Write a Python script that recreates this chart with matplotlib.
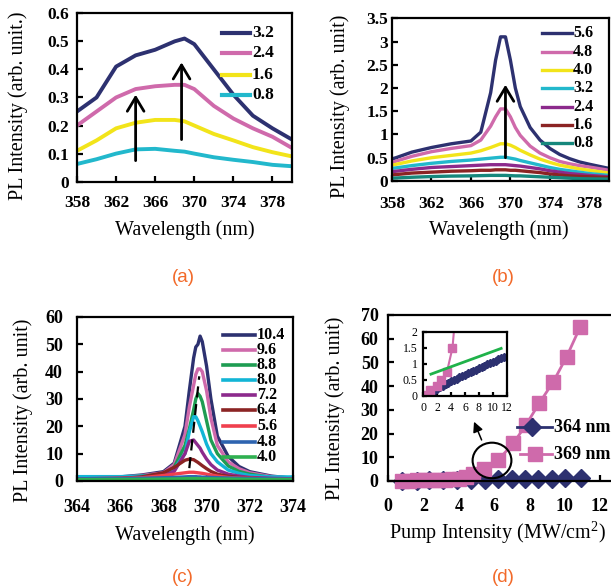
import matplotlib
matplotlib.use('Agg')
import matplotlib.pyplot as plt
from matplotlib.patches import Ellipse

plt.rcParams['font.family'] = 'Liberation Serif'
plt.rcParams['mathtext.fontset'] = 'custom'
plt.rcParams['mathtext.rm'] = 'Liberation Serif'

NAVY = '#2d3170'
PINK = '#cf6aab'
YELLOW = '#f2e41a'
CYAN = '#22b8cc'
PURPLE = '#8c2a8c'
DKRED = '#8b2424'
TEAL = '#16877c'
GREEN = '#1e9c52'
CYAN2 = '#12b5d6'
RED = '#f0404e'
BLUE = '#2e64b0'
LGREEN = '#2fb050'
ORANGE = '#f26a2a'

# ---- (a) below threshold spectra ----
wl_a = [358, 360, 362, 364, 366, 368, 369, 370, 372, 374, 376, 378, 380]
a_32 = [0.25, 0.30, 0.41, 0.45, 0.47, 0.50, 0.51, 0.49, 0.40, 0.31, 0.235, 0.19, 0.15]
a_24 = [0.20, 0.25, 0.30, 0.33, 0.34, 0.345, 0.345, 0.33, 0.27, 0.225, 0.19, 0.16, 0.12]
a_16 = [0.11, 0.147, 0.19, 0.21, 0.22, 0.22, 0.215, 0.20, 0.17, 0.147, 0.123, 0.105, 0.09]
a_08 = [0.063, 0.08, 0.10, 0.115, 0.117, 0.11, 0.107, 0.10, 0.087, 0.078, 0.07, 0.06, 0.055]
a_labels = ['3.2', '2.4', '1.6', '0.8']

# ---- (b) near threshold spectra ----
wl_b = [358, 360, 362, 364, 366, 367, 368, 368.5, 369, 369.5, 370, 370.5, 371,
        372, 373, 374, 375, 376, 377, 378, 380]
b_56 = [0.47, 0.62, 0.72, 0.80, 0.86, 1.05, 1.9, 2.6, 3.1, 3.1, 2.6, 2.0, 1.6,
        1.15, 0.88, 0.70, 0.57, 0.48, 0.41, 0.36, 0.27]
b_48 = [0.40, 0.53, 0.63, 0.70, 0.76, 0.88, 1.18, 1.38, 1.55, 1.55, 1.38, 1.15, 0.98,
        0.75, 0.60, 0.50, 0.42, 0.37, 0.33, 0.30, 0.23]
b_40 = [0.34, 0.43, 0.50, 0.55, 0.60, 0.65, 0.72, 0.76, 0.80, 0.80, 0.77, 0.72, 0.66,
        0.56, 0.47, 0.40, 0.34, 0.30, 0.26, 0.23, 0.17]
b_32 = [0.27, 0.33, 0.38, 0.42, 0.45, 0.47, 0.49, 0.50, 0.51, 0.51, 0.49, 0.47, 0.44,
        0.39, 0.34, 0.29, 0.25, 0.22, 0.19, 0.16, 0.12]
b_24 = [0.20, 0.25, 0.29, 0.31, 0.33, 0.34, 0.35, 0.35, 0.35, 0.35, 0.34, 0.33, 0.32,
        0.29, 0.26, 0.22, 0.19, 0.16, 0.14, 0.12, 0.09]
b_16 = [0.13, 0.17, 0.19, 0.21, 0.22, 0.23, 0.23, 0.24, 0.24, 0.24, 0.23, 0.23, 0.22,
        0.20, 0.18, 0.15, 0.13, 0.11, 0.10, 0.09, 0.07]
b_08 = [0.06, 0.08, 0.095, 0.105, 0.11, 0.115, 0.12, 0.12, 0.12, 0.12, 0.115, 0.11, 0.11,
        0.10, 0.09, 0.08, 0.07, 0.06, 0.05, 0.045, 0.04]
b_labels = ['5.6', '4.8', '4.0', '3.2', '2.4', '1.6', '0.8']

# ---- (c) above threshold spectra ----
wl_c = [364, 366, 367, 368, 368.5, 369, 369.2, 369.4, 369.5, 369.6, 369.7, 369.8,
        370, 370.2, 370.5, 371, 371.5, 372, 373, 374]
c_104 = [1.2, 1.5, 2.2, 3.4, 6.5, 20, 33, 45, 49, 50, 53, 51, 42, 30, 16.4, 9, 5.3, 3.4, 1.8, 1.0]
c_96 = [1.0, 1.3, 2.0, 3.0, 6.0, 17, 27, 35, 39, 41, 41, 40, 33, 23, 13, 7, 4.5, 3, 1.6, 1.0]
c_88 = [0.9, 1.2, 1.8, 2.5, 5.0, 13, 19, 26, 30, 32, 31, 29, 22, 15, 10, 5.5, 3.5, 2.5, 1.3, 0.8]
c_80 = [1.6, 1.6, 1.8, 2.2, 4.5, 10, 18, 23.5, 23.5, 22, 20, 18, 13.5, 10, 7, 4, 2.8, 2, 1.5, 1.5]
c_72 = [0.8, 1.0, 1.3, 2.0, 3.5, 10, 14.5, 15, 14, 13, 12, 10.5, 8, 6, 4, 2.5, 1.8, 1.3, 1.0, 0.8]
c_64 = [0.6, 0.9, 1.5, 3.0, 5.0, 7.6, 8, 7.8, 7.3, 6.8, 6.2, 5.6, 4.5, 3.5, 2.5, 1.7, 1.3, 1.0, 0.7, 0.6]
c_56 = [0.8, 1.0, 1.2, 2.0, 2.5, 3.0, 3.2, 3.2, 3.1, 3.0, 2.9, 2.8, 2.5, 2.2, 1.8, 1.3, 1.1, 1.0, 0.8, 0.7]
c_48 = [0.8, 0.9, 1.0, 1.2, 1.3, 1.5, 1.6, 1.6, 1.6, 1.5, 1.5, 1.4, 1.4, 1.3, 1.2, 1.1, 1.0, 0.9, 0.8, 0.7]
c_40 = [0.5, 0.6, 0.6, 0.7, 0.75, 0.85, 0.9, 0.9, 0.9, 0.9, 0.85, 0.85, 0.8, 0.8, 0.75, 0.7, 0.65, 0.6, 0.55, 0.5]
c_labels = ['10.4', '9.6', '8.8', '8.0', '7.2', '6.4', '5.6', '4.8', '4.0']
c_trend_x = [369.2, 369.66]
c_trend_y = [4.7, 38.3]

# ---- (d) light-in / light-out ----
pump_364 = [0.8, 1.6, 2.3, 3.1, 3.9, 4.7, 5.5, 6.2, 7.0, 7.75, 8.5, 9.3, 10.0, 10.9]
pl_364 = [0.08, 0.18, 0.26, 0.35, 0.44, 0.53, 0.62, 0.70, 0.79, 0.87, 0.95, 1.03, 1.11, 1.2]
pump_369 = [0.8, 1.2, 1.6, 2.0, 2.4, 2.8, 3.2, 3.6, 4.0, 4.4, 4.8, 5.4, 6.24, 7.09,
            7.8, 8.56, 9.36, 10.11, 10.87]
pl_369 = [0.12, 0.19, 0.26, 0.32, 0.4, 0.47, 0.6, 0.7, 0.9, 1.5, 2.8, 4.9, 8.9, 15.9,
          23.6, 32.8, 41.9, 52.4, 64.8]

ins_pump_364 = [0.4, 0.8, 1.2, 1.6, 2.0, 2.4, 2.8, 3.2, 3.6, 4.0, 4.4, 4.8, 5.2, 5.6, 6.0,
                6.4, 6.8, 7.2, 7.6, 8.0, 8.4, 8.8, 9.2, 9.6, 10.0, 10.4, 10.8, 11.2, 11.6]
ins_pl_364 = [0.03, 0.07, 0.12, 0.17, 0.22, 0.27, 0.32, 0.37, 0.41, 0.46, 0.5, 0.54, 0.58,
              0.62, 0.66, 0.7, 0.74, 0.78, 0.82, 0.86, 0.9, 0.94, 0.98, 1.02, 1.06, 1.1,
              1.14, 1.18, 1.22]
ins_pump_369 = [0.3, 1.0, 1.9, 2.6, 3.4, 4.2, 5.2]
ins_pl_369 = [0.02, 0.19, 0.32, 0.5, 0.75, 1.5, 4.0]
fit_x = [1.1, 11.2]
fit_y = [0.68, 1.48]


def style(ax, xpad, ypad, fs):
    for s in ax.spines.values():
        s.set_linewidth(1.6)
        s.set_color('black')
    ax.tick_params(direction='in', length=4, width=1.6, top=False, right=False)
    ax.tick_params(axis='x', pad=xpad, labelsize=fs)
    ax.tick_params(axis='y', pad=ypad, labelsize=fs)
    for t in ax.get_xticklabels() + ax.get_yticklabels():
        t.set_fontweight('bold')


def labels(ax, xl, yl, xc, yc):
    ax.set_xlabel(xl, fontsize=14.5)
    ax.set_ylabel(yl, fontsize=14.5)
    ax.xaxis.set_label_coords(*xc)
    ax.yaxis.set_label_coords(*yc)
    ax.xaxis.label.set_va('center')
    ax.yaxis.label.set_va('center')


def key(ax, names, colors, x0, x1, xt, ys, fs, lw):
    for n, c, y in zip(names, colors, ys):
        ax.plot([x0, x1], [y, y], color=c, lw=lw, transform=ax.transAxes, clip_on=False)
        ax.text(xt, y, n, transform=ax.transAxes, va='center', ha='left',
                fontsize=fs, fontweight='bold')


ARROW = dict(arrowstyle='->,head_length=0.5,head_width=0.3', lw=2, color='black',
             mutation_scale=20, shrinkA=0, shrinkB=0)

fig = plt.figure(figsize=(6.11, 5.87), dpi=100)

# (a)
ax = fig.add_axes([0.1260, 0.6905, 0.3519, 0.2869])
cols_a = [NAVY, PINK, YELLOW, CYAN]
for ys, c in zip([a_32, a_24, a_16, a_08], cols_a):
    ax.plot(wl_a, ys, color=c, lw=2.8, solid_joinstyle='round')
ax.annotate('', xy=(364, 0.31), xytext=(364, 0.075), arrowprops=ARROW)
ax.annotate('', xy=(368.7, 0.425), xytext=(368.7, 0.15), arrowprops=ARROW)
ax.set_xlim(358, 380)
ax.set_ylim(0, 0.6)
ax.set_xticks([358, 362, 366, 370, 374, 378])
ax.set_yticks([0, 0.1, 0.2, 0.3, 0.4, 0.5, 0.6])
ax.set_yticklabels(['0', '0.1', '0.2', '0.3', '0.4', '0.5', '0.6'])
style(ax, 9.5, 6, 12.5)
labels(ax, 'Wavelength (nm)', 'PL Intensity (arb. unit.)', (0.502, -0.287), (-0.274, 0.45))
key(ax, a_labels, cols_a, 0.674, 0.805, 0.814, [0.883, 0.762, 0.634, 0.515], 12.5, 3)
fig.text(183 / 611, 1 - 277 / 587, '(a)', color=ORANGE, fontsize=13.5,
         family='Liberation Sans', ha='center', va='center')

# (b)
ax = fig.add_axes([0.6416, 0.6917, 0.3552, 0.2772])
cols_b = [NAVY, PINK, YELLOW, CYAN, PURPLE, DKRED, TEAL]
for ys, c in zip([b_56, b_48, b_40, b_32, b_24, b_16, b_08], cols_b):
    ax.plot(wl_b, ys, color=c, lw=2.4, solid_joinstyle='round')
ax.annotate('', xy=(369.5, 2.07), xytext=(369.5, 0.5), arrowprops=ARROW)
ax.set_xlim(358, 380)
ax.set_ylim(0, 3.5)
ax.set_xticks([358, 362, 366, 370, 374, 378])
ax.set_yticks([0, 0.5, 1, 1.5, 2, 2.5, 3, 3.5])
ax.set_yticklabels(['0', '0.5', '1', '1.5', '2', '2.5', '3', '3.5'])
style(ax, 11, 3, 12.5)
labels(ax, 'Wavelength (nm)', 'PL Intensity (arb. unit)', (0.49, -0.30), (-0.24, 0.46))
key(ax, b_labels, cols_b, 0.690, 0.828, 0.834,
    [0.908, 0.795, 0.682, 0.570, 0.457, 0.344, 0.232], 11.5, 2.4)
fig.text(503 / 611, 1 - 277 / 587, '(b)', color=ORANGE, fontsize=13.5,
         family='Liberation Sans', ha='center', va='center')

# (c)
ax = fig.add_axes([0.1260, 0.1806, 0.3535, 0.2794])
cols_c = [NAVY, PINK, GREEN, CYAN2, PURPLE, DKRED, RED, BLUE, LGREEN]
for ys, c in zip([c_104, c_96, c_88, c_80, c_72, c_64, c_56, c_48, c_40], cols_c):
    ax.plot(wl_c, ys, color=c, lw=2.4, solid_joinstyle='round')
ax.plot(c_trend_x, c_trend_y, color='black', lw=1.6, dashes=(5, 3))
ax.set_xlim(364, 374)
ax.set_ylim(0, 60)
ax.set_xticks([364, 366, 368, 370, 372, 374])
ax.set_yticks([0, 10, 20, 30, 40, 50, 60])
style(ax, 13, 10, 13)
labels(ax, 'Wavelength (nm)', 'PL Intensity (arb. unit)', (0.5, -0.33), (-0.25, 0.433))
ys_c = [(481 - p) / 164 for p in [335, 350, 365, 380, 395, 410, 426, 442, 457]]
key(ax, c_labels, cols_c, 0.676, 0.824, 0.833, ys_c, 11.5, 2.6)
fig.text(183 / 611, 1 - 577 / 587, '(c)', color=ORANGE, fontsize=13.5,
         family='Liberation Sans', ha='center', va='center')

# (d)
ax = fig.add_axes([0.6355, 0.1806, 0.3753, 0.2828])
ax.plot(pump_364, pl_364, color=NAVY, lw=2, marker='D', ms=9, mfc=NAVY, mec=NAVY, clip_on=False)
ax.plot(pump_369, pl_369, color=PINK, lw=2, marker='s', ms=10.5, mfc=PINK, mec=PINK, clip_on=False)
ax.add_patch(Ellipse((5.88, 8.65), 2.2, 15.0, fill=False, lw=1.5, ec='black', zorder=5))
ax.annotate('', xy=(4.86, 25.0), xytext=(5.29, 17.3),
            arrowprops=dict(arrowstyle='-|>,head_length=0.5,head_width=0.25', lw=1.1, color='black',
                            mutation_scale=12, shrinkA=0, shrinkB=0))
ax.set_xlim(0, 13)
ax.set_ylim(0, 70)
ax.set_xticks([0, 2, 4, 6, 8, 10, 12])
ax.set_yticks([0, 10, 20, 30, 40, 50, 60, 70])
style(ax, 12.5, 7, 13)
labels(ax, r'Pump Intensity (MW/cm$^{2}$)', 'PL Intensity (arb. unit)', (0.474, -0.313), (-0.232, 0.44))
# legend keys
for (name, c, m, ms, x0, xm, y) in [('364 nm', NAVY, 'D', 9, 0.560, 0.626, 0.323),
                                    ('369 nm', PINK, 's', 10.5, 0.575, 0.640, 0.160)]:
    ax.plot([x0, 0.713], [y, y], color=c, lw=2, transform=ax.transAxes, clip_on=False)
    ax.plot([xm], [y], marker=m, ms=ms, color=c, transform=ax.transAxes, clip_on=False)
    ax.text(0.722, y, name, transform=ax.transAxes, va='center', ha='left',
            fontsize=13, fontweight='bold')
fig.text(503 / 611, 1 - 577 / 587, '(d)', color=ORANGE, fontsize=13.5,
         family='Liberation Sans', ha='center', va='center')

# inset
ins = fig.add_axes([0.6928, 0.3254, 0.1365, 0.1095])
ins.plot(ins_pump_364, ins_pl_364, color=NAVY, lw=1.2, marker='D', ms=4.5, mfc=NAVY, mec=NAVY)
ins.plot(ins_pump_369, ins_pl_369, color=PINK, lw=1.5, marker='s', ms=6, mfc=PINK, mec=PINK)
ins.plot(fit_x, fit_y, color='#1fb24a', lw=2)
ins.set_xlim(0, 12)
ins.set_ylim(0, 2)
ins.set_xticks([0, 2, 4, 6, 8, 10, 12])
ins.set_yticks([0, 0.5, 1, 1.5, 2])
ins.set_yticklabels(['0', '0.5', '1', '1.5', '2'])
for s in ins.spines.values():
    s.set_linewidth(1.6)
ins.tick_params(direction='in', length=3, width=1.6, top=False, right=False, labelsize=8.5, pad=4)
ins.patch.set_facecolor('white')

fig.savefig('out.png', dpi=100)
